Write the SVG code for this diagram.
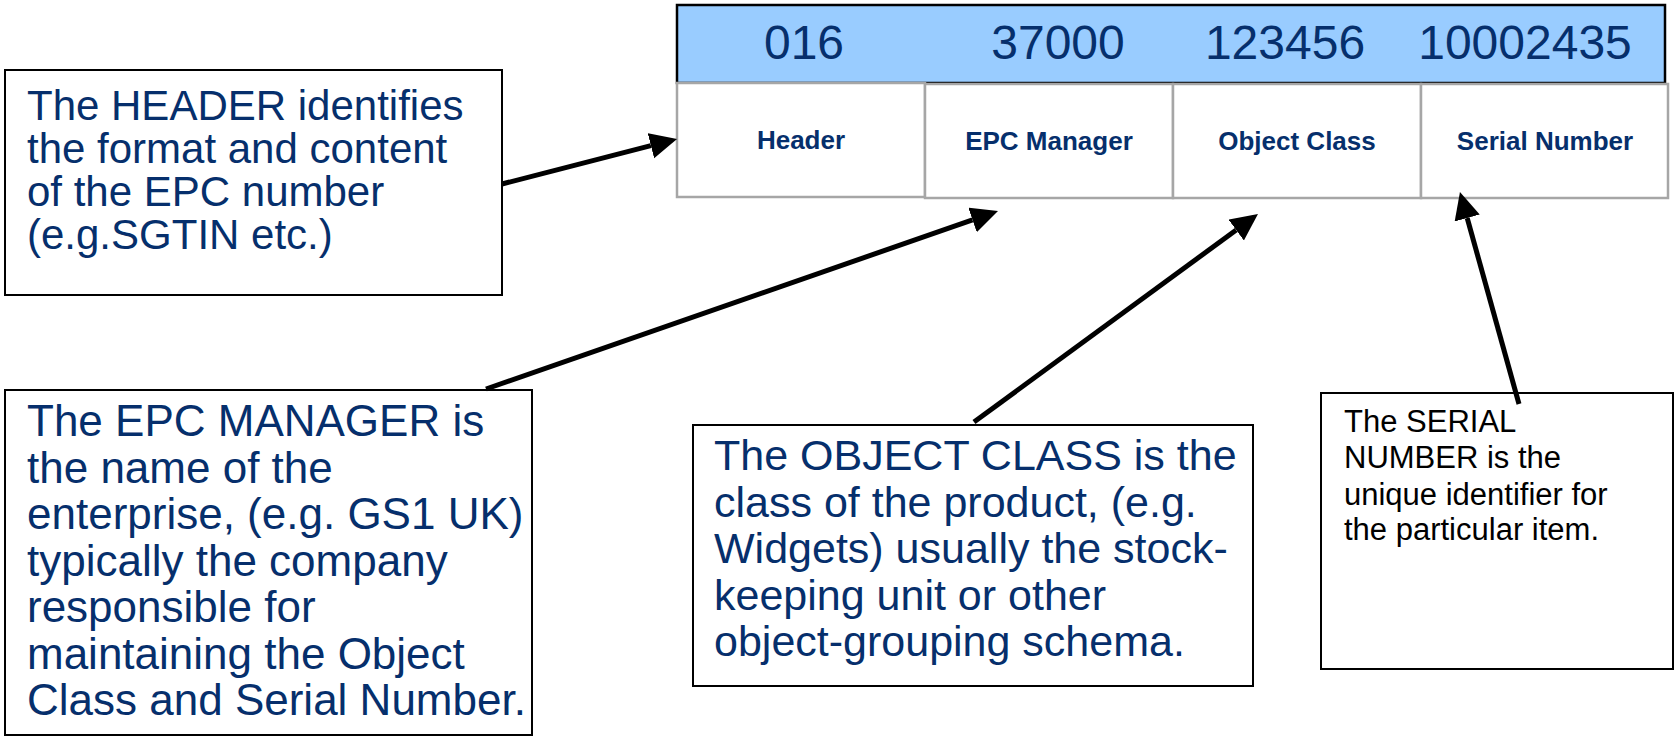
<svg xmlns="http://www.w3.org/2000/svg" width="1675" height="737" viewBox="0 0 1675 737">
<style>
.num{font-family:"Liberation Sans",Arial,sans-serif;font-size:48px;fill:#062f6c;text-anchor:middle}
.lbl{font-family:"Liberation Sans",Arial,sans-serif;font-size:26px;font-weight:bold;fill:#062f6c;text-anchor:middle}
.desc{font-family:"Liberation Sans",Arial,sans-serif;fill:#062f6c}
.blk{font-family:"Liberation Sans",Arial,sans-serif;font-size:31px;fill:#000}
.box{fill:#fff;stroke:#000;stroke-width:2}
.cell{fill:#fff;stroke:#a6a6a6;stroke-width:2.5}
.conn{stroke:#000;stroke-width:5;fill:none;marker-end:url(#ah)}
</style>
<defs>
<marker id="ah" markerUnits="userSpaceOnUse" markerWidth="28" markerHeight="28" refX="0" refY="13" orient="auto">
<path d="M0,0 L27,13 L0,26 Z" fill="#000"/>
</marker>
</defs>
<rect width="1675" height="737" fill="#fff"/>
<g id="epc-bar">
<rect x="677" y="5" width="988" height="78" fill="#99ccff" stroke="#000" stroke-width="2.5"/>
<text class="num" x="804" y="59">016</text>
<text class="num" x="1058" y="59">37000</text>
<text class="num" x="1285" y="59">123456</text>
<text class="num" x="1525" y="59">10002435</text>
</g>
<g id="cell-header">
<rect class="cell" x="677" y="83" width="248" height="114"/>
<text class="lbl" x="801" y="149">Header</text>
</g>
<g id="cell-manager">
<rect class="cell" x="925" y="84" width="248" height="114"/>
<text class="lbl" x="1049" y="150">EPC Manager</text>
</g>
<g id="cell-class">
<rect class="cell" x="1173" y="84" width="248" height="114"/>
<text class="lbl" x="1297" y="150">Object Class</text>
</g>
<g id="cell-serial">
<rect class="cell" x="1421" y="84" width="247" height="114"/>
<text class="lbl" x="1545" y="150">Serial Number</text>
</g>
<g id="note-header">
<rect class="box" x="5" y="70" width="497" height="225"/>
<text class="desc" font-size="42" x="27" y="120">The HEADER identifies</text>
<text class="desc" font-size="42" x="27" y="163">the format and content</text>
<text class="desc" font-size="42" x="27" y="206">of the EPC number</text>
<text class="desc" font-size="42" x="27" y="249">(e.g.SGTIN etc.)</text>
</g>
<g id="note-manager">
<rect class="box" x="5" y="390" width="527" height="345"/>
<text class="desc" font-size="44" x="27" y="436">The EPC MANAGER is</text>
<text class="desc" font-size="44" x="27" y="483">the name of the</text>
<text class="desc" font-size="44" x="27" y="529">enterprise, (e.g. GS1 UK)</text>
<text class="desc" font-size="44" x="27" y="576">typically the company</text>
<text class="desc" font-size="44" x="27" y="622">responsible for</text>
<text class="desc" font-size="44" x="27" y="669">maintaining the Object</text>
<text class="desc" font-size="44" x="27" y="715">Class and Serial Number.</text>
</g>
<g id="note-class">
<rect class="box" x="693" y="425" width="560" height="261"/>
<text class="desc" font-size="43" x="714" y="470">The OBJECT CLASS is the</text>
<text class="desc" font-size="43" x="714" y="517">class of the product, (e.g.</text>
<text class="desc" font-size="43" x="714" y="563">Widgets) usually the stock-</text>
<text class="desc" font-size="43" x="714" y="610">keeping unit or other</text>
<text class="desc" font-size="43" x="714" y="656">object-grouping schema.</text>
</g>
<g id="note-serial">
<rect class="box" x="1321" y="393" width="352" height="276"/>
<text class="blk" x="1344" y="432">The SERIAL</text>
<text class="blk" x="1344" y="468">NUMBER is the</text>
<text class="blk" x="1344" y="505">unique identifier for</text>
<text class="blk" x="1344" y="540">the particular item.</text>
</g>
<g id="connectors">
<line class="conn" x1="502" y1="184" x2="650.9" y2="145.7"/>
<line class="conn" x1="486" y1="389" x2="972.5" y2="219.9"/>
<line class="conn" x1="974" y1="422" x2="1236.2" y2="230"/>
<line class="conn" x1="1519" y1="404" x2="1467.2" y2="218"/>
</g>
</svg>
